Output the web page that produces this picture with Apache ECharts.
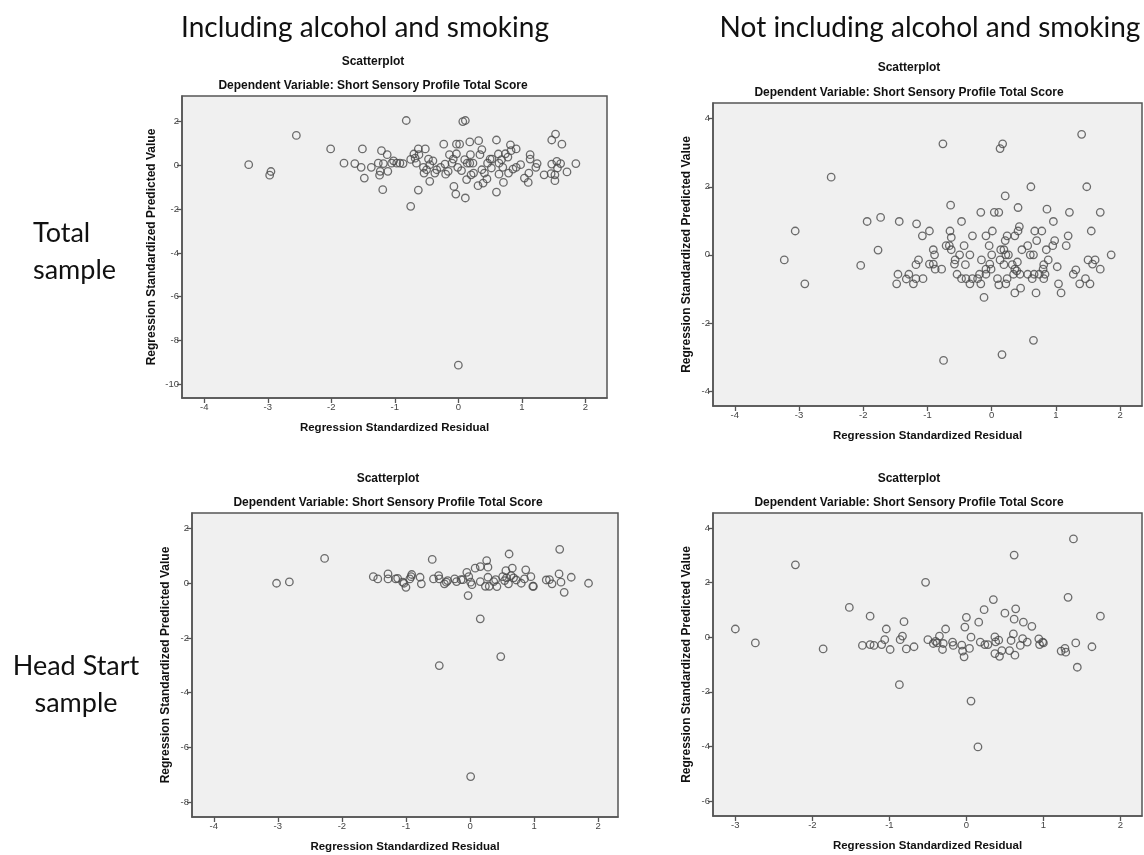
<!DOCTYPE html>
<html>
<head>
<meta charset="utf-8">
<title>Residual scatterplots</title>
<script src="https://cdn.jsdelivr.net/npm/echarts@6/dist/echarts.min.js"></script>
<style>
    body{margin:0;background:#fff;}
    #main{width:1144px;height:855px;}
</style>
</head>
<body>
<div id="main"></div>
<script>
    // [standardized residual, standardized predicted value]
    var totalIncl = [
        [-3.30,0.03],[-2.95,-0.28],[-2.97,-0.45],[-2.55,1.37],[-2.01,0.75],[-1.80,0.10],[-1.63,0.08],[-1.53,-0.09],
        [-1.51,0.75],[-1.48,-0.58],[-1.37,-0.09],[-1.26,0.10],[-1.21,0.67],[-1.18,0.08],[-1.12,0.49],[-1.23,-0.27],
        [-1.24,-0.45],[-1.11,-0.27],[-1.19,-1.11],[-1.02,0.21],[-1.05,0.10],[-0.97,0.10],[-0.92,0.10],[-0.87,0.08],
        [-0.82,2.05],[-0.75,0.27],[-0.70,0.52],[-0.68,0.33],[-0.66,0.10],[-0.63,0.75],[-0.62,0.49],[-0.63,-1.13],
        [-0.75,-1.87],[-0.52,0.75],[-0.55,-0.09],[-0.54,-0.35],[-0.50,-0.20],[-0.47,0.29],[-0.45,0.03],[-0.45,-0.73],
        [-0.40,0.21],[-0.37,-0.35],[-0.34,-0.20],[-0.28,-0.09],[-0.23,0.97],[-0.21,0.06],[-0.20,-0.40],[-0.16,-0.27],
        [-0.14,0.49],[-0.10,0.10],[-0.08,0.29],[-0.07,-0.96],[-0.04,-1.31],[-0.03,0.97],[-0.03,0.53],[-0.01,-0.09],
        [0.00,-9.13],[0.02,0.97],[0.05,-0.24],[0.07,2.00],[0.11,2.05],[0.10,0.26],[0.11,-1.49],[0.13,-0.65],
        [0.14,0.10],[0.18,1.07],[0.19,0.49],[0.18,0.10],[0.20,-0.43],[0.24,-0.35],[0.23,0.10],[0.31,-0.93],
        [0.32,1.13],[0.34,0.49],[0.37,0.72],[0.37,-0.20],[0.39,-0.81],[0.41,-0.35],[0.45,-0.62],[0.46,0.10],
        [0.50,0.29],[0.52,-0.12],[0.53,0.29],[0.60,1.16],[0.60,-1.22],[0.63,0.52],[0.64,0.10],[0.64,-0.40],
        [0.68,0.26],[0.70,-0.09],[0.71,-0.78],[0.74,0.53],[0.78,0.38],[0.79,-0.35],[0.82,0.94],[0.83,0.67],
        [0.86,-0.17],[0.91,0.75],[0.91,-0.09],[0.98,0.03],[1.04,-0.58],[1.10,-0.78],[1.11,-0.35],[1.13,0.49],
        [1.13,0.29],[1.22,-0.09],[1.24,0.08],[1.35,-0.43],[1.46,-0.38],[1.47,0.06],[1.47,1.16],[1.53,1.43],
        [1.52,-0.43],[1.52,-0.70],[1.55,0.18],[1.56,-0.12],[1.61,0.08],[1.63,0.97],[1.71,-0.30],[1.85,0.08]
    ];
    var totalExcl = [
        [-3.23,-0.15],[-3.06,0.70],[-2.91,-0.85],[-2.50,2.28],[-2.04,-0.31],[-1.94,0.98],[-1.77,0.14],[-1.73,1.10],
        [-1.44,0.98],[-1.46,-0.57],[-1.48,-0.85],[-1.33,-0.71],[-1.29,-0.57],[-1.22,-0.85],[-1.18,-0.70],[-1.18,-0.29],
        [-1.14,-0.15],[-1.17,0.91],[-1.08,0.56],[-1.07,-0.70],[-0.97,0.70],[-0.97,-0.27],[-0.91,0.15],[-0.89,0.00],
        [-0.91,-0.27],[-0.88,-0.42],[-0.78,-0.42],[-0.76,3.26],[-0.75,-3.10],[-0.71,0.27],[-0.66,0.27],[-0.65,0.70],
        [-0.64,1.46],[-0.63,0.51],[-0.63,0.15],[-0.58,-0.27],[-0.57,-0.15],[-0.54,-0.57],[-0.50,0.00],[-0.47,0.98],
        [-0.47,-0.70],[-0.43,0.27],[-0.41,-0.29],[-0.40,-0.70],[-0.34,0.00],[-0.34,-0.85],[-0.30,0.56],[-0.30,-0.70],
        [-0.22,-0.70],[-0.19,-0.57],[-0.17,1.25],[-0.16,-0.15],[-0.17,-0.85],[-0.12,-1.25],[-0.09,0.56],[-0.09,-0.42],
        [-0.09,-0.57],[-0.04,0.27],[-0.03,-0.27],[-0.01,-0.42],[0.01,0.70],[0.00,0.00],[0.04,1.25],[0.11,1.25],
        [0.09,-0.70],[0.11,-0.88],[0.13,-0.15],[0.13,3.12],[0.17,3.26],[0.16,-2.93],[0.14,0.15],[0.19,0.15],
        [0.19,-0.29],[0.21,1.73],[0.21,0.42],[0.22,0.00],[0.24,0.56],[0.26,0.00],[0.24,-0.70],[0.22,-0.85],
        [0.32,-0.29],[0.34,-0.57],[0.36,0.56],[0.36,-0.42],[0.36,-1.12],[0.41,1.39],[0.41,0.70],[0.40,-0.21],
        [0.39,-0.47],[0.43,0.83],[0.44,-0.57],[0.45,-0.98],[0.47,0.15],[0.56,0.27],[0.56,-0.57],[0.60,0.00],
        [0.61,2.00],[0.63,-0.70],[0.65,0.00],[0.65,-2.51],[0.66,-0.57],[0.67,0.70],[0.69,-1.12],[0.70,0.42],
        [0.74,-0.57],[0.78,0.70],[0.80,-0.42],[0.81,-0.29],[0.81,-0.70],[0.83,-0.57],[0.85,0.15],[0.86,1.34],
        [0.88,-0.15],[0.95,0.27],[0.96,0.98],[0.98,0.42],[1.02,-0.35],[1.04,-0.85],[1.08,-1.12],[1.16,0.27],
        [1.19,0.56],[1.21,1.25],[1.27,-0.57],[1.31,-0.44],[1.37,-0.85],[1.40,3.54],[1.46,-0.70],[1.48,2.00],
        [1.50,-0.15],[1.53,-0.85],[1.55,0.70],[1.57,-0.27],[1.61,-0.15],[1.69,1.25],[1.69,-0.42],[1.86,0.00]
    ];
    var headStartIncl = [
        [-3.02,0.00],[-2.82,0.05],[-2.27,0.91],[-1.51,0.24],[-1.44,0.16],[-1.28,0.34],[-1.28,0.16],[-1.16,0.16],
        [-1.13,0.18],[-1.05,0.04],[-1.03,0.00],[-1.00,-0.15],[-0.94,0.16],[-0.91,0.32],[-0.92,0.24],[-0.78,0.22],
        [-0.76,-0.02],[-0.59,0.87],[-0.57,0.16],[-0.49,0.28],[-0.48,0.16],[-0.48,-3.01],[-0.40,-0.02],[-0.37,0.04],
        [-0.35,0.10],[-0.24,0.16],[-0.21,0.06],[-0.14,0.13],[-0.11,0.13],[-0.05,0.40],[-0.02,0.24],[-0.03,-0.45],
        [0.01,0.04],[0.03,-0.05],[0.01,-7.07],[0.08,0.55],[0.16,0.61],[0.16,0.06],[0.16,-1.30],[0.24,-0.11],
        [0.26,0.83],[0.28,0.59],[0.28,0.22],[0.30,-0.11],[0.37,0.06],[0.40,0.13],[0.42,-0.12],[0.48,-2.68],
        [0.51,0.24],[0.54,0.10],[0.56,0.46],[0.57,0.20],[0.60,-0.02],[0.61,1.07],[0.64,0.28],[0.66,0.55],
        [0.68,0.20],[0.72,0.12],[0.80,0.00],[0.85,0.16],[0.87,0.49],[0.95,0.24],[0.98,-0.11],[0.99,-0.11],
        [1.19,0.12],[1.24,0.13],[1.28,-0.02],[1.39,0.34],[1.40,1.24],[1.42,0.04],[1.47,-0.33],[1.58,0.22],
        [1.85,0.00]
    ];
    var headStartExcl = [
        [-3.00,0.30],[-2.74,-0.21],[-2.22,2.65],[-1.86,-0.43],[-1.52,1.09],[-1.35,-0.30],[-1.25,0.77],[-1.25,-0.27],
        [-1.20,-0.30],[-1.10,-0.27],[-1.06,-0.09],[-1.04,0.30],[-0.99,-0.45],[-0.87,-1.74],[-0.86,-0.09],[-0.83,0.04],
        [-0.81,0.57],[-0.78,-0.43],[-0.68,-0.35],[-0.53,2.01],[-0.50,-0.09],[-0.43,-0.23],[-0.40,-0.15],[-0.38,-0.21],
        [-0.35,0.04],[-0.31,-0.45],[-0.30,-0.23],[-0.27,0.30],[-0.18,-0.18],[-0.17,-0.30],[-0.06,-0.29],[-0.05,-0.51],
        [-0.03,-0.72],[-0.02,0.37],[0.00,0.73],[0.04,-0.41],[0.06,-2.34],[0.06,0.00],[0.15,-4.02],[0.16,0.55],
        [0.18,-0.18],[0.23,1.01],[0.24,-0.27],[0.28,-0.27],[0.35,1.38],[0.37,0.01],[0.38,-0.17],[0.37,-0.60],
        [0.42,-0.11],[0.43,-0.70],[0.46,-0.49],[0.50,0.88],[0.56,-0.49],[0.58,-0.12],[0.61,0.12],[0.62,0.66],
        [0.62,3.01],[0.63,-0.66],[0.64,1.04],[0.70,-0.30],[0.73,-0.05],[0.74,0.55],[0.79,-0.18],[0.85,0.40],
        [0.94,-0.06],[0.95,-0.27],[0.99,-0.18],[1.00,-0.21],[1.23,-0.51],[1.28,-0.41],[1.29,-0.55],[1.32,1.46],
        [1.39,3.60],[1.42,-0.21],[1.44,-1.10],[1.63,-0.35],[1.74,0.77]
    ];

    // tick labels
    var ticksX1 = [-4, -3, -2, -1, 0, 1, 2];
    var ticksY1 = [-10, -8, -6, -4, -2, 0, 2];
    var ticksX2 = [-4, -3, -2, -1, 0, 1, 2];
    var ticksY2 = [-4, -2, 0, 2, 4];
    var ticksX3 = [-4, -3, -2, -1, 0, 1, 2];
    var ticksY3 = [-8, -6, -4, -2, 0, 2];
    var ticksX4 = [-3, -2, -1, 0, 1, 2];
    var ticksY4 = [-6, -4, -2, 0, 2, 4];

    var subTitle = 'Dependent Variable: Short Sensory Profile Total Score';
    var axisGray = '#555';

    var panels = [
        {data: totalIncl, xt: ticksX1, yt: ticksY1, grid: {left: 182, top: 96, width: 425, height: 302},
            xr: [-4.35, 2.34], yr: [-10.63, 3.17], yGap: 24, tx: 373, ty: [62, 86]},
        {data: totalExcl, xt: ticksX2, yt: ticksY2, grid: {left: 713, top: 103, width: 429, height: 303},
            xr: [-4.34, 2.34], yr: [-4.44, 4.46], yGap: 20, tx: 909, ty: [68, 93]},
        {data: headStartIncl, xt: ticksX3, yt: ticksY3, grid: {left: 192, top: 513, width: 426, height: 304},
            xr: [-4.34, 2.31], yr: [-8.55, 2.57], yGap: 20, tx: 388, ty: [479, 503]},
        {data: headStartExcl, xt: ticksX4, yt: ticksY4, grid: {left: 713, top: 513, width: 429, height: 303},
            xr: [-3.29, 2.28], yr: [-6.55, 4.55], yGap: 20, tx: 909, ty: [479, 503]}
    ];

    var xName = {fontFamily: 'Liberation Sans', fontWeight: 'bold', fontSize: 11.5, color: '#111'};
    var yName = {fontFamily: 'Liberation Sans', fontWeight: 'bold', fontSize: 12, color: '#111'};

    var grids = [], xAxes = [], yAxes = [], series = [], graphics = [];

    panels.forEach(function (p, i) {
        grids.push({
            left: p.grid.left, top: p.grid.top, width: p.grid.width, height: p.grid.height,
            show: true, backgroundColor: '#f0f0f0', borderColor: axisGray, borderWidth: 1.5
        });
        xAxes.push({
            type: 'value', gridIndex: i, min: p.xr[0], max: p.xr[1],
            name: 'Regression Standardized Residual', nameLocation: 'middle', nameGap: 24,
            nameTextStyle: xName,
            axisLine: {show: true, onZero: false, lineStyle: {color: axisGray, width: 1.5}},
            axisTick: {show: true, length: 5, customValues: p.xt, lineStyle: {color: axisGray, width: 1.3}},
            axisLabel: {customValues: p.xt, fontSize: 9.5, color: '#444', fontFamily: 'Liberation Sans', margin: 4},
            splitLine: {show: false}
        });
        yAxes.push({
            type: 'value', gridIndex: i, min: p.yr[0], max: p.yr[1],
            name: 'Regression Standardized Predicted Value', nameLocation: 'middle', nameGap: p.yGap,
            nameTextStyle: yName,
            axisLine: {show: true, onZero: false, lineStyle: {color: axisGray, width: 1.5}},
            axisTick: {show: true, length: 5, customValues: p.yt, lineStyle: {color: axisGray, width: 1.3}},
            axisLabel: {customValues: p.yt, fontSize: 9.5, color: '#444', fontFamily: 'Liberation Sans', margin: 3},
            splitLine: {show: false}
        });
        series.push({
            type: 'scatter', xAxisIndex: i, yAxisIndex: i, data: p.data,
            symbol: 'circle', symbolSize: 7.5,
            itemStyle: {color: 'rgba(0,0,0,0)', borderColor: '#4a4a4a', borderWidth: 1.3}
        });
        graphics.push(
            {type: 'text', x: p.tx, y: p.ty[0], style: {text: 'Scatterplot', font: 'bold 12px "Liberation Sans"', fill: '#111',
                textAlign: 'center', align: 'center', textVerticalAlign: 'middle', verticalAlign: 'middle'}},
            {type: 'text', x: p.tx, y: p.ty[1], style: {text: subTitle, font: 'bold 12px "Liberation Sans"', fill: '#111',
                textAlign: 'center', align: 'center', textVerticalAlign: 'middle', verticalAlign: 'middle'}}
        );
    });

    function bigText(str, x, y, align, size) {
        return {type: 'text', x: x, y: y, style: {text: str, font: size + 'px Lato', fill: '#111',
            textAlign: align, align: align, textVerticalAlign: 'middle', verticalAlign: 'middle'}};
    }
    graphics.push(
        bigText('Including alcohol and smoking', 365, 28, 'center', 28),
        bigText('Not including alcohol and smoking', 930, 28, 'center', 28),
        bigText('Total', 33, 233, 'left', 27),
        bigText('sample', 33, 270, 'left', 27),
        bigText('Head Start', 76, 666, 'center', 27),
        bigText('sample', 76, 703, 'center', 27)
    );

    var myChart = echarts.init(document.getElementById('main'));
    var option = {
        animation: false,
        grid: grids,
        xAxis: xAxes,
        yAxis: yAxes,
        series: series,
        graphic: graphics
    };
    myChart.setOption(option);
</script>
</body>
</html>
